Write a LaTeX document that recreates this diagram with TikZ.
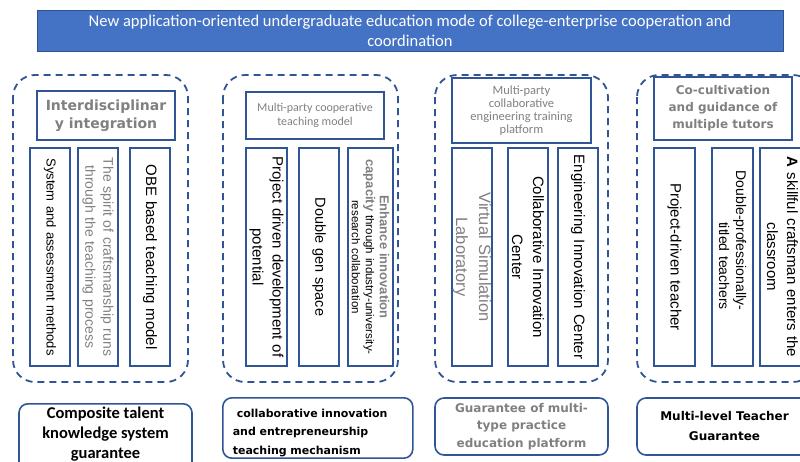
\documentclass[tikz,border=0pt]{standalone}
\usepackage{fontspec}
\setmainfont{Liberation Sans}
\newfontfamily\calibrifont{Carlito}
\newfontfamily\tahomafont{DejaVu Sans}
\definecolor{bannerblue}{HTML}{4472C4}
\definecolor{bannerline}{HTML}{2F528F}
\definecolor{frameblue}{HTML}{2F5597}
\definecolor{labelgray}{HTML}{808080}

\begin{document}
\begin{tikzpicture}[
  x=1pt, y=-1pt,
  every node/.style={inner sep=1pt, align=center},
  frame/.style={draw=frameblue, line width=1.8pt, dash pattern=on 7pt off 5pt, rounded corners=22pt},
  headbox/.style={draw=frameblue, line width=1.6pt, text=labelgray},
  colbox/.style={draw=frameblue, line width=1.6pt, rotate=-90, minimum width=218pt,
    minimum height=40pt, text width=214pt},
  basebox/.style={draw=frameblue, line width=1.6pt, rounded corners=9pt}]
  \useasboundingbox (0,0) rectangle (800,461);
  \clip (0,0) rectangle (800,461);

  \node[fill=bannerblue, draw=bannerline, line width=0.6pt, minimum width=746pt, minimum height=41pt,
    text=white, font=\calibrifont\fontsize{16.5}{20}\selectfont] (banner) at (410,30.5)
    {New application-oriented undergraduate education mode of college-enterprise cooperation and\\coordination};

  \draw[frame] (13,75) rectangle (188,382);
  \node[headbox, minimum width=138pt, minimum height=49pt, font=\tahomafont\bfseries\fontsize{14}{18}\selectfont]
    (interdisc) at (106,115.5) {Interdisciplinar\\y integration};
  \node[colbox, font=\fontsize{13}{15}\selectfont] (sysassess) at (50,257) {System and assessment methods};
  \node[colbox, text=labelgray, font=\fontsize{14}{18}\selectfont] (craftspirit) at (98,257)
    {The spirit of craftsmanship runs\\through the teaching process};
  \node[colbox, font=\fontsize{15}{17}\selectfont] (obemodel) at (150,257) {OBE based teaching model};
  \node[basebox, anchor=north, minimum width=173pt, inner ysep=3pt, text depth=30pt,
    font=\calibrifont\bfseries\fontsize{16.5}{20}\selectfont] (talentbase) at (105.5,403)
    {Composite talent\\knowledge system\\guarantee};

  \draw[frame] (223,75) rectangle (398,382);
  \node[headbox, minimum width=138pt, minimum height=47pt, font=\calibrifont\fontsize{12}{14}\selectfont]
    (coopmodel) at (315,115.5) {Multi-party cooperative\\teaching model};
  \node[colbox, minimum height=41pt, font=\fontsize{15}{20}\selectfont] (projdev) at (266.5,257)
    {Project driven development of\\potential};
  \node[colbox, font=\fontsize{14.5}{17}\selectfont] (doublegen) at (319,257) {Double gen space};
  \node[colbox, minimum height=45pt, font=\fontsize{11.5}{14}\selectfont] (innovcap) at (370.5,257)
    {{\fontsize{13}{14}\selectfont\bfseries\color{labelgray}Enhance innovation}\\
     {\fontsize{13}{14}\selectfont\bfseries\color{labelgray}capacity} through industry-university-\\
     research collaboration};
  \node[basebox, anchor=north west, minimum width=190pt, text width=170pt, align=left, inner xsep=9pt,
    inner ysep=11pt, text depth=30pt, font=\tahomafont\bfseries\fontsize{11}{18.5}\selectfont]
    (innovbase) at (222,397)
    {\hspace*{4pt}\mbox{collaborative innovation}\\and entrepreneurship\\teaching mechanism};

  \draw[frame] (435,75) rectangle (608,382);
  \node[headbox, minimum width=139pt, minimum height=65pt, font=\calibrifont\fontsize{12.5}{13}\selectfont]
    (engplatform) at (521.5,110.5) {Multi-party\\collaborative\\engineering training\\platform};
  \node[colbox, text=labelgray, font=\fontsize{16.5}{23}\selectfont] (virtlab) at (472,257)
    {Virtual Simulation\\Laboratory};
  \node[colbox, font=\fontsize{15}{21}\selectfont] (collabcenter) at (528,257)
    {Collaborative Innovation\\Center};
  \node[colbox, font=\fontsize{15}{17}\selectfont] (engcenter) at (578,257) {Engineering Innovation Center};
  \node[basebox, minimum width=173pt, minimum height=57pt, text=labelgray,
    font=\tahomafont\bfseries\fontsize{12}{17.5}\selectfont] (practicebase) at (521.5,426.5)
    {Guarantee of multi-\\type practice\\education platform};

  \draw[frame] (637,75) rectangle (815,382);
  \node[headbox, minimum width=138pt, minimum height=63pt, font=\tahomafont\bfseries\fontsize{12}{17}\selectfont]
    (tutors) at (723,108.5) {Co-cultivation\\and guidance of\\multiple tutors};
  \node[colbox, minimum height=41pt, font=\fontsize{15}{17}\selectfont] (projteacher) at (674.5,257)
    {Project-driven teacher};
  \node[colbox, minimum height=41pt, text width=180pt, align=right, font=\fontsize{14}{17}\selectfont]
    (doubleteacher) at (732.5,257)
    {\mbox{Double-professionally-}\hspace*{37pt}\mbox{}\\titled teachers\hspace*{37pt}\mbox{}};
  \node[colbox, minimum height=45pt, font=\fontsize{15}{20}\selectfont] (craftsman) at (782.5,257)
    {\textbf{A} skillful craftsman enters the\\classroom};
  \node[basebox, minimum width=175pt, minimum height=57pt, font=\tahomafont\bfseries\fontsize{12}{20}\selectfont]
    (teacherbase) at (724.5,426.5) {Multi-level Teacher\\Guarantee};
\end{tikzpicture}
\end{document}
